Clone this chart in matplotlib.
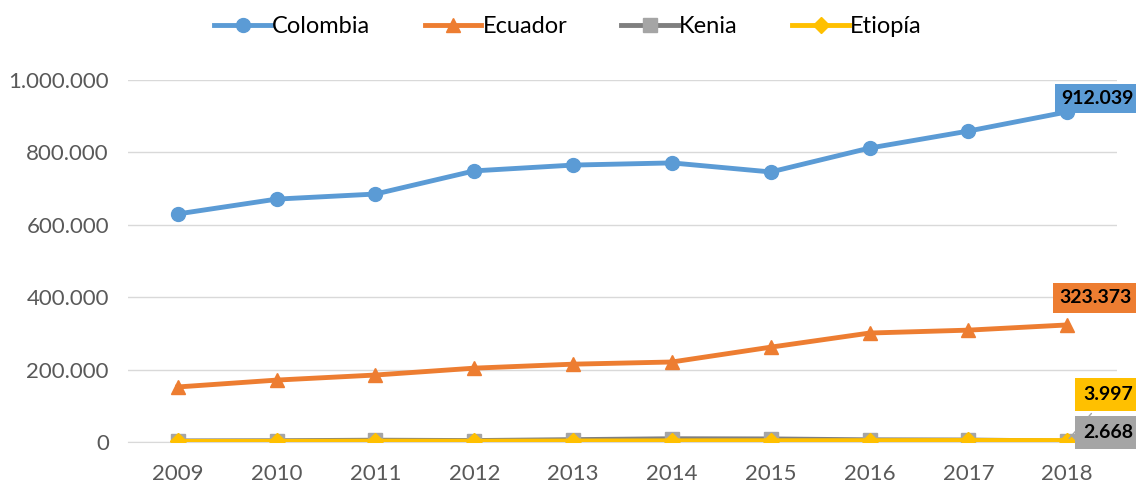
import numpy as np
import matplotlib.pyplot as plt
from matplotlib.ticker import FuncFormatter

plt.rcParams['font.family'] = ['Lato', 'DejaVu Sans']

years = ['2009', '2010', '2011', '2012', '2013', '2014', '2015', '2016', '2017', '2018']
colombia = [630000, 671000, 685000, 749000, 765000, 771000, 746000, 812000, 859000, 912039]
ecuador = [152000, 171000, 185000, 204000, 215000, 221000, 262000, 301000, 309000, 323373]
kenia = [3000, 3500, 5000, 4000, 6500, 9000, 8500, 6000, 5500, 2668]
etiopia = [1500, 1800, 2500, 2200, 2800, 3200, 3500, 3800, 4200, 3997]

X = np.arange(len(years))

fig = plt.figure(figsize=(11.36, 4.82), dpi=100)
ax = fig.add_axes([0.113, 0.083, 0.870, 0.751])

ax.plot(X, colombia, color='#5B9BD5', lw=3.5, marker='o', ms=10, label='Colombia', zorder=4)
ax.plot(X, ecuador, color='#ED7D31', lw=3.5, marker='^', ms=10, label='Ecuador', zorder=4)
ax.plot(X, kenia, color='#7F7F7F', lw=3.5, marker='s', ms=10, mfc='#A5A5A5', mec='#A5A5A5', label='Kenia', zorder=4)
ax.plot(X, etiopia, color='#FFC000', lw=3.5, marker='D', ms=8, label='Etiopía', zorder=5)

ax.set_xlim(-0.5, len(years) - 0.5)
ax.set_ylim(0, 1000000)
ax.set_yticks(np.arange(0, 1000001, 200000))
ax.yaxis.set_major_formatter(FuncFormatter(lambda v, p: f'{int(v):,}'.replace(',', '.')))
ax.set_xticks(X)
ax.set_xticklabels(years)
ax.grid(axis='y', color='#D9D9D9', lw=1)
ax.set_axisbelow(True)
for s in ['top', 'right', 'left']:
    ax.spines[s].set_visible(False)
ax.spines['bottom'].set_color('#D9D9D9')
ax.tick_params(length=0, labelsize=16, colors='#595959')
ax.tick_params(axis='x', pad=16)
ax.tick_params(axis='y', pad=14)

def fmt(v):
    return f'{int(v):,}'.replace(',', '.')

lab = dict(fontsize=14, fontweight='bold', color='black', ha='left', va='center', zorder=6)
ax.annotate(fmt(colombia[-1]), (X[-1], colombia[-1]), xytext=(-4, 9.5), textcoords='offset points',
            bbox=dict(boxstyle='square,pad=0.32', fc='#5B9BD5', ec='none'), **lab)
ax.annotate(fmt(ecuador[-1]), (X[-1], ecuador[-1]), xytext=(-5.5, 19.5), textcoords='offset points',
            bbox=dict(boxstyle='square,pad=0.32', fc='#ED7D31', ec='none'), **lab)
ax.annotate(fmt(etiopia[-1]), (X[-1], etiopia[-1]), xytext=(11.5, 33), textcoords='offset points',
            bbox=dict(boxstyle='square,pad=0.42', fc='#FFC000', ec='none'),
            arrowprops=dict(arrowstyle='-', color='#A5A5A5', lw=1), **lab)
ax.annotate(fmt(kenia[-1]), (X[-1], kenia[-1]), xytext=(11.5, 6), textcoords='offset points',
            bbox=dict(boxstyle='square,pad=0.42', fc='#A5A5A5', ec='none'), **lab)

fig.legend(loc='center', bbox_to_anchor=(0.5, 0.944), ncol=4, frameon=False, fontsize=17,
           handlelength=2.4, columnspacing=2.3, handletextpad=0.05)

plt.savefig('out.png', dpi=100)
